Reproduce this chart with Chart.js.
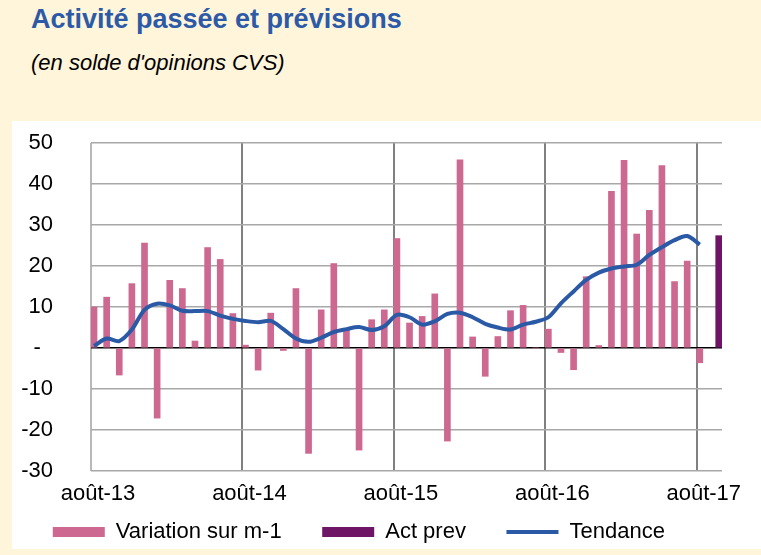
<!DOCTYPE html>
<html>
<head>
<meta charset="utf-8">
<script src="https://cdn.jsdelivr.net/npm/chart.js@4"></script>
<style>
  body { margin: 0; width: 761px; height: 555px; background: #FFF5DB; position: relative; overflow: hidden;
         font-family: "Liberation Sans", Arial, sans-serif; }
  #title { position: absolute; left: 31px; top: 6px; font-size: 27px; line-height: 27px; font-weight: bold;
           color: #2C5AA7; white-space: nowrap; }
  #subtitle { position: absolute; left: 31px; top: 52px; font-size: 22px; line-height: 22px; font-style: italic;
              color: #000; white-space: nowrap; }
  #panel { position: absolute; left: 12px; top: 121px; width: 749px; height: 428px; background: #fff; }
  #chart { position: absolute; left: 12px; top: 121px; }
</style>
</head>
<body>
<div id="title">Activité passée et prévisions</div>
<div id="subtitle">(en solde d'opinions CVS)</div>
<div id="panel"></div>
<canvas id="chart" width="749" height="434"></canvas>
<script>
// monthly values, août-13 .. août-17 (index = months since août-13)
var variation = [10.0, 12.4, -6.6, 15.7, 25.6, -17.1, 16.5, 14.5, 1.7, 24.5, 21.6, 8.4,
                 0.7, -5.4, 8.5, -0.6, 14.5, -25.7, 9.3, 20.6, 4.5, -24.9, 6.9, 9.3,
                 26.7, 6.1, 7.7, 13.2, -22.7, 45.9, 2.7, -6.9, 2.8, 9.1, 10.4, 0,
                 4.6, -1.1, -5.3, 17.4, 0.6, 38.2, 45.8, 27.8, 33.6, 44.5, 16.2, 21.2,
                 -3.6];
var tendance = [0.5, 2.3, 1.7, 4.5, 9.3, 10.8, 10.4, 9.1, 9.0, 9.0, 7.9, 7.1,
                6.6, 6.3, 6.6, 4.6, 2.3, 1.5, 2.5, 3.9, 4.6, 5.1, 4.4, 5.3,
                8.1, 7.5, 5.7, 6.5, 8.3, 8.6, 7.5, 5.9, 5.0, 4.5, 5.7, 6.4,
                7.5, 10.9, 13.8, 16.6, 18.4, 19.4, 19.9, 20.3, 22.7, 24.6, 26.3, 27.3,
                25.2];
var actPrev = [27.4];
var actPrevMonth = [49.5];

var yearLabels = ['août-13', 'août-14', 'août-15', 'août-16', 'août-17'];
var yearTicks = [-0.24, 11.76, 23.76, 35.76, 47.76];

var PINK = '#CD6890';
var PURPLE = '#6E1565';
var BLUE = '#2A59A6';

Chart.defaults.font.family = '"Liberation Sans", Arial, sans-serif';
Chart.defaults.color = '#000';

// legend texts get trailing spaces so the gaps look like the Excel legend
var GAP = '     ';

var ctx = document.getElementById('chart');
var chart = new Chart(ctx, {
  type: 'bar',
  data: {
    datasets: [
      {
        label: 'Variation sur m-1' + GAP,
        data: variation.map(function (v, i) { return { x: i, y: v }; }),
        backgroundColor: PINK,
        borderWidth: 0,
        barThickness: 6,
        grouped: false,
        pointStyle: 'rect',
        order: 1
      },
      {
        label: 'Act prev' + GAP,
        data: actPrev.map(function (v, i) { return { x: actPrevMonth[i], y: v }; }),
        backgroundColor: PURPLE,
        borderWidth: 0,
        barThickness: 6,
        grouped: false,
        pointStyle: 'rect',
        order: 1
      },
      {
        type: 'line',
        label: 'Tendance   ',
        data: tendance.map(function (v, i) { return { x: i, y: v }; }),
        borderColor: BLUE,
        borderWidth: 4,
        pointRadius: 0,
        pointBorderWidth: 4,
        pointBorderColor: BLUE,
        pointStyle: 'line',
        tension: 0.3,
        fill: false,
        order: 0
      }
    ]
  },
  options: {
    responsive: false,
    animation: false,
    layout: { padding: { left: 2, right: 39, top: 22, bottom: 2 } },
    plugins: {
      tooltip: { enabled: false },
      legend: {
        position: 'bottom',
        align: 'center',
        labels: {
          usePointStyle: true,
          pointStyleWidth: 52,
          boxHeight: 10,
          padding: 10,
          font: { size: 22 },
          color: '#000',
          sort: function (a, b) { return a.datasetIndex - b.datasetIndex; }
        }
      }
    },
    scales: {
      x: {
        type: 'linear',
        min: -0.24,
        max: 49.76,
        offset: false,
        afterBuildTicks: function (s) {
          s.ticks = yearTicks.map(function (v) { return { value: v }; });
        },
        afterFit: function (s) { s.height = 40; },
        ticks: {
          autoSkip: false,
          maxRotation: 0,
          padding: 10,
          labelOffset: 7,
          font: { size: 22 },
          color: '#000',
          callback: function (v, i) { return yearLabels[i]; }
        },
        grid: {
          offset: false,
          drawTicks: false,
          lineWidth: 2,
          color: function (c) { return c.index === 0 ? '#b8b8b8' : '#808080'; }
        },
        border: { display: false }
      },
      y: {
        min: -30,
        max: 50,
        afterFit: function (s) {
          s.width = 77;
          s.paddingTop = 0;
          s.paddingBottom = 0;
        },
        ticks: {
          stepSize: 10,
          padding: 38,
          font: { size: 22 },
          color: '#000',
          callback: function (v) { return v === 0 ? '-  ' : v; }
        },
        grid: {
          drawTicks: false,
          lineWidth: 1.5,
          color: function (c) { return c.tick && c.tick.value === 0 ? '#000' : '#a8a8a8'; }
        },
        border: { display: false }
      }
    }
  }
});
</script>
</body>
</html>
